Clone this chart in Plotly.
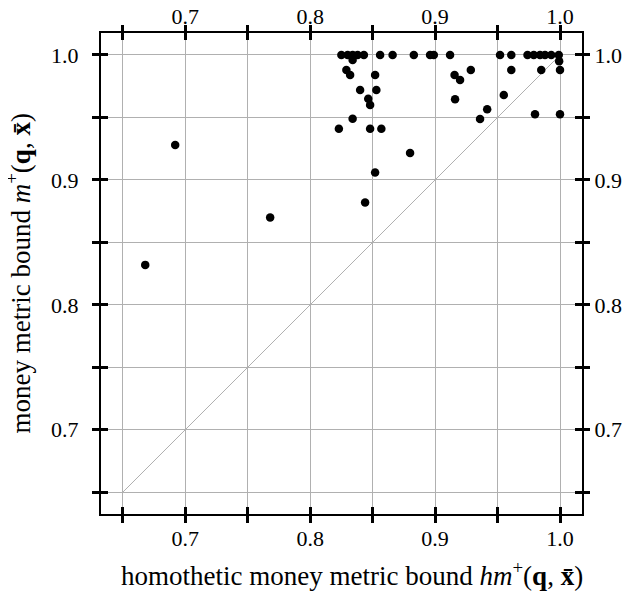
import plotly.graph_objects as go

# data
hm_bound = [0.668, 0.692, 0.768, 0.844,
            0.825, 0.830, 0.834, 0.838, 0.843, 0.856, 0.866, 0.883, 0.896, 0.899,
            0.912, 0.952, 0.961, 0.974, 0.979, 0.984, 0.988, 0.993, 0.999,
            0.834, 0.829, 0.832, 0.852, 0.840, 0.853, 0.8465, 0.848, 0.834, 0.823,
            0.848, 0.857, 0.880, 0.852, 0.9156, 0.920, 0.9286, 0.916, 0.9417, 0.936,
            0.955, 0.961, 0.9993, 0.985, 1.0, 0.980, 1.0]
m_bound = [0.832, 0.928, 0.870, 0.882,
           1.0, 1.0, 1.0, 1.0, 1.0, 1.0, 1.0, 1.0, 1.0, 1.0,
           1.0, 1.0, 1.0, 1.0, 1.0, 1.0, 1.0, 1.0, 1.0,
           0.996, 0.988, 0.984, 0.984, 0.972, 0.972, 0.965, 0.960, 0.949, 0.941,
           0.941, 0.941, 0.9215, 0.906, 0.984, 0.980, 0.988, 0.9645, 0.9565, 0.9487,
           0.968, 0.988, 0.995, 0.988, 0.988, 0.9525, 0.9525]

diag = [0.65, 1.0]
tick_vals = [0.65, 0.70, 0.75, 0.80, 0.85, 0.90, 0.95, 1.00]
tick_text = ["", "0.7", "", "0.8", "", "0.9", "", "1.0"]
axis_range = [0.6326, 1.0176]
x_title = "homothetic money metric bound <i>hm</i><sup>+</sup>(<b>q</b>, <b>x\u0304</b>)"
y_title = "money metric bound <i>m</i><sup>+</sup>(<b>q</b>, <b>x\u0304</b>)"

FONT = "Liberation Serif"

fig = go.Figure()
fig.add_trace(go.Scatter(x=diag, y=diag, mode="lines",
                         line=dict(color="#b0b0b0", width=1),
                         showlegend=False, hoverinfo="skip"))
fig.add_trace(go.Scatter(x=hm_bound, y=m_bound, mode="markers",
                         marker=dict(color="black", size=8.5),
                         showlegend=False))
# dummy traces for the overlay axes
for xa, ya in [("x2", "y2"), ("x3", "y3"), ("x4", "y4")]:
    fig.add_trace(go.Scatter(x=[None], y=[None], xaxis=xa, yaxis=ya,
                             showlegend=False, hoverinfo="skip"))

base = dict(range=axis_range, tickmode="array", tickvals=tick_vals,
            ticktext=tick_text, zeroline=False, automargin=False,
            tickcolor="black", tickwidth=2.5, ticklen=7,
            tickfont=dict(family=FONT, size=22, color="black"))

title_font = dict(family=FONT, size=27, color="black")

fig.update_layout(
    width=630, height=594,
    paper_bgcolor="white", plot_bgcolor="white",
    margin=dict(l=93, r=56, t=25, b=88),
    xaxis=dict(**base, ticks="outside", showgrid=True, gridcolor="#b0b0b0",
               gridwidth=1, showline=True, linecolor="black", linewidth=2,
               mirror=True, ticklabelstandoff=-3),
    yaxis=dict(**base, ticks="outside", showgrid=True, gridcolor="#b0b0b0",
               gridwidth=1, showline=True, linecolor="black", linewidth=2,
               mirror=True, ticklabelstandoff=9),
    xaxis2=dict(**base, overlaying="x", side="top", anchor="y", ticks="outside",
                showgrid=False, showline=False, ticklabelstandoff=-8),
    yaxis2=dict(**base, overlaying="y", side="right", anchor="x", ticks="outside",
                showgrid=False, showline=False, ticklabelstandoff=0),
    xaxis3=dict(**base, overlaying="x", side="bottom", anchor="y", ticks="inside",
                showticklabels=False, showgrid=False, showline=False),
    yaxis3=dict(**base, overlaying="y", side="left", anchor="x", ticks="inside",
                showticklabels=False, showgrid=False, showline=False),
    xaxis4=dict(**base, overlaying="x", side="top", anchor="y", ticks="inside",
                showticklabels=False, showgrid=False, showline=False),
    yaxis4=dict(**base, overlaying="y", side="right", anchor="x", ticks="inside",
                showticklabels=False, showgrid=False, showline=False),
    annotations=[
        dict(text=x_title, xref="paper", yref="paper", x=0.5, y=0,
             xanchor="center", yanchor="middle", xshift=10, yshift=-60,
             showarrow=False, font=title_font),
        dict(text=y_title, xref="paper", yref="paper", x=0, y=0.5,
             xanchor="center", yanchor="middle", xshift=-83, textangle=-90,
             showarrow=False, font=title_font),
    ],
)

fig.write_html("out.html")
